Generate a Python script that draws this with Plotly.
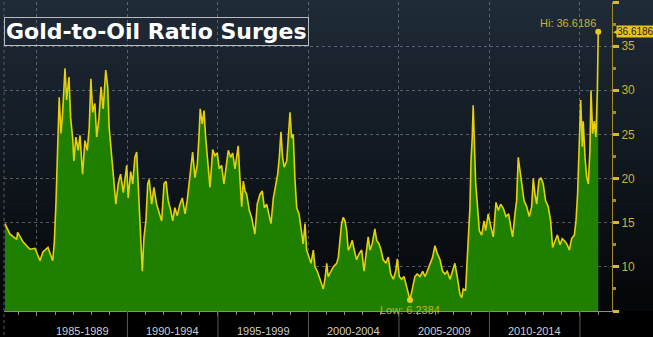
import plotly.graph_objects as go

# ---------------- data ----------------
YEARS = [
    1983.23, 1983.51, 1983.88, 1983.93, 1984.24, 1984.61, 1984.89, 1985.17, 1985.33, 1985.61,
    1985.87, 1985.96, 1986.05, 1986.12, 1986.23, 1986.33, 1986.42, 1986.55, 1986.64, 1986.77,
    1986.86, 1986.97, 1987.04, 1987.15, 1987.28, 1987.38, 1987.52, 1987.65, 1987.78, 1987.89,
    1987.98, 1988.08, 1988.20, 1988.30, 1988.43, 1988.54, 1988.66, 1988.80, 1988.91, 1988.99,
    1989.13, 1989.25, 1989.36, 1989.49, 1989.62, 1989.77, 1989.96, 1990.04, 1990.18, 1990.29,
    1990.41, 1990.51, 1990.60, 1990.69, 1990.82, 1990.91, 1991.02, 1991.12, 1991.20, 1991.34,
    1991.46, 1991.61, 1991.76, 1991.89, 1992.02, 1992.13, 1992.25, 1992.39, 1992.50, 1992.62,
    1992.75, 1992.90, 1993.03, 1993.18, 1993.30, 1993.45, 1993.60, 1993.73, 1993.86, 1993.95,
    1994.02, 1994.13, 1994.23, 1994.32, 1994.43, 1994.56, 1994.71, 1994.83, 1994.96, 1995.07,
    1995.20, 1995.33, 1995.44, 1995.57, 1995.70, 1995.81, 1995.94, 1996.03, 1996.12, 1996.22,
    1996.31, 1996.40, 1996.49, 1996.59, 1996.73, 1996.86, 1997.04, 1997.17, 1997.32, 1997.45,
    1997.56, 1997.69, 1997.82, 1997.93, 1998.06, 1998.19, 1998.30, 1998.39, 1998.48, 1998.57,
    1998.66, 1998.80, 1998.88, 1998.98, 1999.07, 1999.16, 1999.25, 1999.35, 1999.48, 1999.59,
    1999.71, 1999.81, 1999.90, 2000.03, 2000.14, 2000.27, 2000.36, 2000.49, 2000.60, 2000.73,
    2000.82, 2000.91, 2001.01, 2001.09, 2001.23, 2001.37, 2001.56, 2001.65, 2001.74, 2001.83,
    2001.92, 2002.02, 2002.11, 2002.20, 2002.29, 2002.42, 2002.53, 2002.66, 2002.80, 2002.94,
    2003.07, 2003.18, 2003.30, 2003.40, 2003.52, 2003.67, 2003.77, 2003.90, 2004.01, 2004.13,
    2004.28, 2004.41, 2004.54, 2004.69, 2004.82, 2004.91, 2005.02, 2005.15, 2005.28, 2005.43,
    2005.61, 2005.76, 2005.88, 2006.01, 2006.16, 2006.31, 2006.44, 2006.56, 2006.71, 2006.86,
    2006.99, 2007.12, 2007.27, 2007.41, 2007.54, 2007.67, 2007.82, 2007.97, 2008.09, 2008.22,
    2008.37, 2008.46, 2008.55, 2008.68, 2008.77, 2008.87, 2008.92, 2008.98, 2009.05, 2009.10,
    2009.16, 2009.24, 2009.33, 2009.44, 2009.57, 2009.70, 2009.79, 2009.93, 2010.07, 2010.21,
    2010.36, 2010.49, 2010.62, 2010.77, 2010.91, 2011.06, 2011.17, 2011.28, 2011.41, 2011.50,
    2011.59, 2011.69, 2011.78, 2011.91, 2012.06, 2012.20, 2012.33, 2012.42, 2012.51, 2012.61,
    2012.73, 2012.85, 2012.97, 2013.10, 2013.25, 2013.38, 2013.49, 2013.62, 2013.75, 2013.90,
    2014.02, 2014.17, 2014.30, 2014.41, 2014.54, 2014.69, 2014.78, 2014.87, 2014.96, 2015.04,
    2015.13, 2015.18, 2015.28, 2015.37, 2015.46, 2015.55, 2015.61, 2015.70, 2015.79, 2015.88,
    2015.96, 2016.01,
]
RATIO = [
    14.9, 13.7, 13.1, 13.9, 12.8, 12.0, 12.1, 10.7, 11.7, 12.2,
    10.7, 12.8, 17.2, 23.2, 29.2, 25.1, 27.5, 32.5, 28.9, 31.5,
    26.9, 24.7, 22.0, 24.7, 23.2, 24.9, 20.5, 24.3, 23.2, 25.8,
    31.3, 27.5, 28.5, 24.7, 26.9, 30.4, 27.9, 32.3, 30.4, 25.8,
    22.8, 20.2, 17.1, 19.4, 20.5, 18.4, 21.5, 17.8, 20.8, 19.4,
    22.4, 23.0, 18.6, 14.9, 9.5, 13.3, 15.2, 19.4, 19.9, 17.1,
    19.0, 17.1, 16.0, 15.2, 19.4, 19.7, 17.5, 16.4, 15.2, 16.7,
    15.8, 17.1, 17.8, 16.0, 17.5, 20.1, 23.0, 20.1, 21.6, 24.7,
    27.9, 26.2, 27.7, 24.7, 22.2, 19.0, 23.3, 22.6, 22.9, 21.1,
    21.5, 19.4, 21.1, 23.2, 22.4, 22.9, 21.1, 22.2, 23.7, 19.8,
    16.8, 19.7, 18.6, 18.2, 16.4, 15.6, 13.7, 17.1, 18.2, 18.6,
    16.7, 17.1, 16.0, 14.9, 17.8, 19.4, 20.5, 22.4, 25.3, 22.4,
    21.3, 22.0, 24.2, 27.5, 24.6, 25.0, 20.1, 16.7, 16.0, 14.1,
    12.6, 14.9, 11.9, 11.1, 10.4, 11.9, 10.0, 9.5, 8.9, 8.0,
    7.5, 8.6, 10.4, 8.9, 9.5, 10.0, 10.4, 11.1, 13.0, 14.9,
    15.6, 15.2, 14.1, 11.9, 12.2, 13.0, 11.9, 10.8, 11.5, 11.9,
    9.5, 11.1, 13.4, 11.9, 12.6, 14.3, 13.0, 12.6, 11.9, 10.8,
    10.4, 11.1, 9.2, 8.6, 9.5, 10.9, 8.9, 8.6, 8.9, 7.7,
    6.2384, 7.7, 8.9, 9.2, 8.9, 9.5, 8.9, 9.5, 10.4, 11.1,
    12.4, 11.5, 10.8, 9.5, 9.2, 9.5, 8.6, 9.5, 10.4, 8.9,
    6.9, 6.5, 7.5, 7.3, 10.4, 13.7, 16.7, 22.0, 24.7, 28.3,
    23.2, 19.4, 17.1, 14.1, 13.6, 15.2, 14.1, 16.0, 14.6, 13.4,
    17.3, 16.4, 17.1, 16.6, 15.7, 16.0, 14.6, 13.4, 16.0, 17.5,
    22.4, 20.9, 19.4, 17.5, 16.8, 15.7, 16.8, 20.0, 18.3, 17.1,
    19.8, 20.1, 19.4, 17.5, 16.8, 15.2, 12.2, 12.9, 13.6, 12.5,
    13.2, 12.9, 12.5, 11.9, 13.2, 13.6, 15.2, 18.3, 23.6, 28.9,
    23.6, 26.5, 22.4, 20.2, 19.4, 23.2, 30.0, 25.1, 26.5, 24.7,
    30.0, 36.6186,
]
PERIOD_LABELS = ["1985-1989", "1990-1994", "1995-1999", "2000-2004", "2005-2009", "2010-2014"]
PERIOD_STARTS = [1985, 1990, 1995, 2000, 2005, 2010]
SEPARATORS = [1990, 1995, 2000, 2005, 2010, 2015]
Y_TICKS = [5, 10, 15, 20, 25, 30, 35, 40]
Y_TICK_TEXT = ["", "10", "15", "20", "25", "30", "35", "40"]
TITLE = "Gold-to-Oil Ratio Surges"

# ---------------- figure ----------------
i_hi = max(range(len(RATIO)), key=lambda i: RATIO[i])
i_lo = min(range(len(RATIO)), key=lambda i: RATIO[i])

YELLOW = "#e6cf0c"
LABEL_YELLOW = "#c9b23a"
NARROW = "Liberation Sans Narrow, Arial Narrow, sans-serif"

fig = go.Figure()
fig.add_trace(go.Scatter(
    x=YEARS, y=RATIO, mode="lines", fill="tozeroy",
    fillcolor="rgb(31,128,0)",
    line=dict(color=YELLOW, width=1.6),
    hoverinfo="x+y", showlegend=False,
))
fig.add_trace(go.Scatter(
    x=[YEARS[i_hi], YEARS[i_lo]], y=[RATIO[i_hi], RATIO[i_lo]],
    mode="markers", marker=dict(color="#e8cc1c", size=6),
    hoverinfo="skip", showlegend=False,
))

# background gradient (top dark slate -> bottom near black)
shapes = []
n_bands = 48
top_c = (31, 43, 56)
bot_c = (4, 6, 8)
y_top = 1 + 2 / 309
for k in range(n_bands):
    t0 = k / n_bands
    t1 = (k + 1) / n_bands
    tm = (t0 + t1) / 2
    c = tuple(int(round(bot_c[j] + (top_c[j] - bot_c[j]) * tm)) for j in range(3))
    shapes.append(dict(
        type="rect", xref="paper", yref="paper",
        x0=-0.01, x1=1.08, y0=t0 * y_top, y1=t1 * y_top + 0.002,
        fillcolor="rgb(%d,%d,%d)" % c, line=dict(width=0), layer="below",
    ))
# period separators in the label strip
for s in SEPARATORS:
    shapes.append(dict(type="line", xref="x", yref="paper", x0=s, x1=s, y0=0, y1=-0.09,
                       line=dict(color="#5a5a5a", width=1)))
shapes.append(dict(type="line", xref="paper", yref="paper", x0=0, x1=0, y0=1, y1=-0.09,
                   line=dict(color="#5a5a5a", width=1, dash="dot")))

annotations = [
    dict(text="<b>%s</b>" % TITLE, xref="paper", yref="paper", x=0.0, y=0.905,
         xanchor="left", yanchor="middle", showarrow=False,
         font=dict(family="DejaVu Sans, sans-serif", size=22, color="white"),
         bordercolor="#b8bcc0", borderwidth=1, borderpad=1),
    dict(text="Hi: %.4f" % RATIO[i_hi], x=YEARS[i_hi], y=RATIO[i_hi], xref="x", yref="y",
         xanchor="right", yanchor="bottom", yshift=1, showarrow=False,
         font=dict(family=NARROW, size=11, color=LABEL_YELLOW)),
    dict(text="Low: %.4f" % RATIO[i_lo], x=YEARS[i_lo], y=RATIO[i_lo], xref="x", yref="y",
         xanchor="center", yanchor="top", yshift=-2, showarrow=False,
         font=dict(family=NARROW, size=11, color="#b9b52c")),
    dict(text="%.4f" % RATIO[-1], x=1, y=RATIO[-1], xref="paper", yref="y",
         xanchor="left", yanchor="middle", xshift=4, showarrow=False,
         bgcolor="#e8c41a", borderpad=0,
         font=dict(family=NARROW, size=10, color="#1a1a1a")),
    dict(text="◀", x=1, y=RATIO[-1], xref="paper", yref="y",
         xanchor="left", yanchor="middle", xshift=-1, showarrow=False,
         font=dict(size=7, color="#e8c41a")),
]
for lab, st in zip(PERIOD_LABELS, PERIOD_STARTS):
    annotations.append(dict(text=lab, x=st + 2.5, y=0, xref="x", yref="paper",
                            xanchor="center", yanchor="middle", yshift=-20, showarrow=False,
                            font=dict(family=NARROW, size=11, color="#cfcfcf")))

fig.update_layout(
    width=653, height=337,
    margin=dict(l=4, r=41, t=2, b=26),
    paper_bgcolor="black",
    plot_bgcolor="rgba(0,0,0,0)",
    shapes=shapes,
    annotations=annotations,
    xaxis=dict(
        range=[1983.18, 2016.77], tickmode="linear", tick0=1985, dtick=5,
        showgrid=True, gridcolor="rgba(140,150,160,0.55)", griddash="dot", gridwidth=1,
        ticks="outside", ticklen=4, tickcolor="#8a8a8a", showticklabels=False,
        showline=True, linecolor="#8c8c8c", linewidth=1, zeroline=False,
        minor=dict(dtick=1, tick0=1985, ticks="outside", ticklen=3, tickcolor="#8a8a8a",
                   showgrid=False),
        fixedrange=True,
    ),
    yaxis=dict(
        side="right", range=[5, 40], tickmode="array", tickvals=Y_TICKS, ticktext=Y_TICK_TEXT,
        showgrid=True, gridcolor="rgba(140,150,160,0.55)", griddash="dot", gridwidth=1,
        ticks="outside", ticklen=6, tickwidth=3, tickcolor="#d8b830",
        tickfont=dict(family=NARROW, size=12, color=LABEL_YELLOW),
        showline=True, linecolor="#a48a2a", linewidth=1, zeroline=False,
        minor=dict(tickmode="linear", tick0=2.5, dtick=5, ticks="outside", ticklen=3,
                   tickcolor="#a48a2a", showgrid=False),
        fixedrange=True,
    ),
)

fig.write_html("out.html")
